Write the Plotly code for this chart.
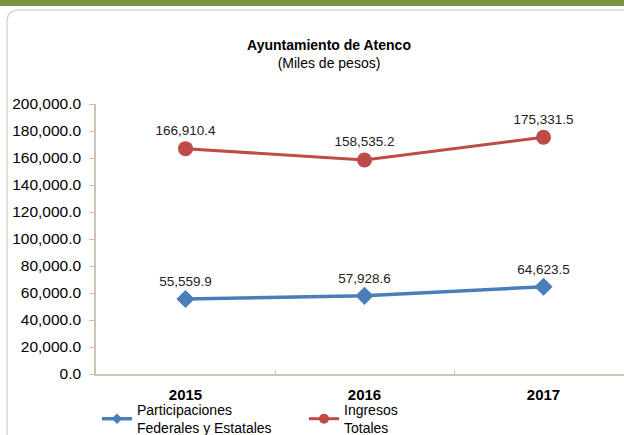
import plotly.graph_objects as go

years = ["2015", "2016", "2017"]
participaciones = [55559.9, 57928.6, 64623.5]
ingresos = [166910.4, 158535.2, 175331.5]
y_ticks = [0, 20000, 40000, 60000, 80000, 100000, 120000, 140000, 160000, 180000, 200000]
series_names = ["Participaciones<br>Federales y Estatales", "Ingresos<br>Totales"]

W, H = 624, 435
L, R, T, B = 96, 624, 104, 374
pw, ph = R - L, B - T

def px(x):
    return (x - L) / pw

def py(y):
    return (B - y) / ph

FONT = "Liberation Sans, Arial, sans-serif"
BLUE = "#4A7EBB"
RED = "#BE4B48"

fig = go.Figure()
fig.add_trace(go.Scatter(
    x=years, y=participaciones, mode="lines+markers+text", showlegend=False,
    line=dict(color=BLUE, width=3.5),
    marker=dict(symbol="diamond", size=14, color=BLUE),
    text=[f"{v:,.1f}" for v in participaciones], textposition="top center",
    textfont=dict(size=13.5, color="#222", family=FONT),
))
fig.add_trace(go.Scatter(
    x=years, y=ingresos, mode="lines+markers+text", showlegend=False,
    line=dict(color=RED, width=3),
    marker=dict(symbol="circle", size=15, color=RED),
    text=[f"{v:,.1f}" for v in ingresos], textposition="top center",
    textfont=dict(size=13.5, color="#222", family=FONT),
))
# legend-only entries with smaller markers
fig.add_trace(go.Scatter(x=[None], y=[None], mode="lines+markers", name=series_names[0],
                         line=dict(color=BLUE, width=3.5),
                         marker=dict(symbol="diamond", size=8, color=BLUE)))
fig.add_trace(go.Scatter(x=[None], y=[None], mode="lines+markers", name=series_names[1],
                         line=dict(color=RED, width=3),
                         marker=dict(symbol="circle", size=10, color=RED)))

# frame and top bar
r = 12
fig.add_shape(type="rect", xref="paper", yref="paper",
              x0=px(-2), x1=px(630), y0=py(0), y1=py(6),
              fillcolor="#77933C", line=dict(width=0), layer="below")
fig.add_shape(type="path", xref="paper", yref="paper", layer="below",
              path=(f"M {px(7)} {py(450)} L {px(7)} {py(10+r)} "
                    f"Q {px(7)} {py(10)} {px(7+r)} {py(10)} L {px(640)} {py(10)}"),
              line=dict(color="#D8D8C8", width=1.5))

fig.update_layout(
    width=W, height=H, autosize=False,
    margin=dict(l=L, r=W - R, t=T, b=H - B),
    paper_bgcolor="white", plot_bgcolor="white",
    font=dict(family=FONT, color="#000", size=13),
    title=dict(text="<b>Ayuntamiento de Atenco</b><br><span style='font-size:14px'>(Miles de pesos)</span>",
               x=329 / W, xanchor="center", y=1 - 50 / H, yanchor="top",
               font=dict(size=14, family=FONT)),
    showlegend=True,
    legend=dict(orientation="h", xref="container", yref="container",
                x=97 / W, xanchor="left", y=1 - 394 / H, yanchor="top",
                font=dict(size=14, family=FONT), traceorder="normal",
                itemwidth=30, entrywidth=162, bgcolor="rgba(0,0,0,0)"),
    xaxis=dict(type="category", range=[-0.5, -0.5 + pw / 179.0], automargin=False,
               showline=True, linecolor="#C8C8B4", linewidth=1.5,
               showgrid=False, ticks="inside", tickson="boundaries", ticklen=4,
               tickcolor="#C8C8B4",
               tickfont=dict(size=15, family=FONT, weight="bold"),
               ticklabelstandoff=6),
    yaxis=dict(range=[0, 200000], tickvals=y_ticks, tickformat=",.1f", automargin=False,
               showline=True, linecolor="#C8C8B4", linewidth=1.5,
               showgrid=False, ticks="outside", tickcolor="#C8C8B4", ticklen=5,
               tickfont=dict(size=15.5, family=FONT), zeroline=False,
               ticklabelstandoff=5),
)
fig.write_html("out.html",
               config={"displayModeBar": False, "responsive": False},
               default_width="624px", default_height="435px",
               post_script="document.body.style.margin='0';document.body.style.overflow='hidden';")
